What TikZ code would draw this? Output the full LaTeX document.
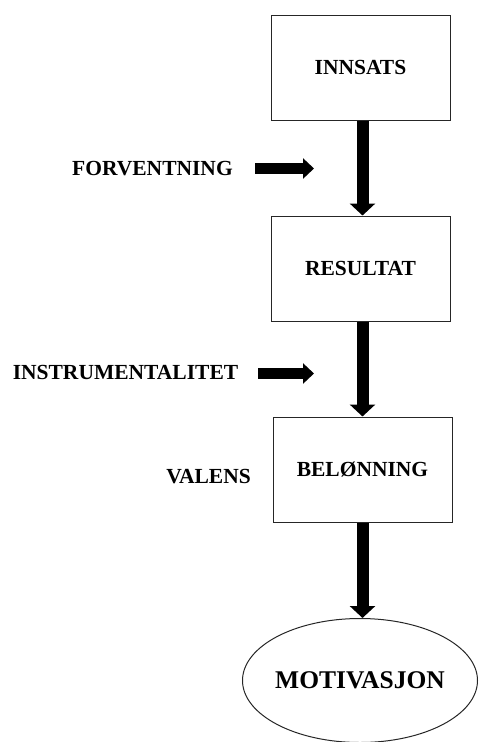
\documentclass[tikz,border=0pt]{standalone}
\usepackage{fontspec}
\setmainfont{Liberation Serif}
\usetikzlibrary{positioning, arrows.meta, shapes.geometric}

\begin{document}
\begin{tikzpicture}[
    x=1pt, y=-1pt,
    node distance=201pt,
    on grid,
    font=\fontsize{21.5}{24}\selectfont\bfseries,
    boks/.style={draw=black!85, line width=1pt, minimum width=179pt, minimum height=105pt},
    maal/.style={ellipse, draw=black!85, line width=1pt, inner xsep=-6pt, inner ysep=0pt,
        minimum width=235pt, minimum height=124pt,
        font=\fontsize{25.5}{28}\selectfont\bfseries},
    tykkpil/.style={line width=12pt, -{Triangle[width=25pt, length=12pt]}},
    sidepil/.style={line width=11pt, -{Triangle[width=20pt, length=11pt]}}
]
\useasboundingbox (0,0) rectangle (479,742);

% boksene i kjeden
\node[boks] (innsats) at (360.5,67.5) {INNSATS};
\node[boks, below=of innsats] (resultat) {RESULTAT};
\node[boks, below=of resultat, xshift=2pt] (belonning) {BELØNNING};
\node[maal, below=211pt of belonning, xshift=-2.5pt] (motivasjon) {MOTIVASJON};

% tekst til venstre
\node (forventning) at (152.5,169) {FORVENTNING};
\node (instrumentalitet) at (125.5,372) {INSTRUMENTALITET};
\node (valens) at (208.5,477) {VALENS};

% frie ender for sidepilene
\coordinate (f1) at (255,168.5);
\coordinate (f2) at (314,168.5);
\coordinate (i1) at (258,373.5);
\coordinate (i2) at (314,373.5);

% piler
\path[tykkpil]
    ([xshift=2pt]innsats.south) edge ([xshift=2pt]resultat.north)
    ([xshift=2pt]resultat.south) edge (belonning.north)
    (belonning.south) edge ([xshift=2.5pt]motivasjon.north);
\draw[sidepil] (f1) -- (f2);
\draw[sidepil] (i1) -- (i2);

\end{tikzpicture}
\end{document}
